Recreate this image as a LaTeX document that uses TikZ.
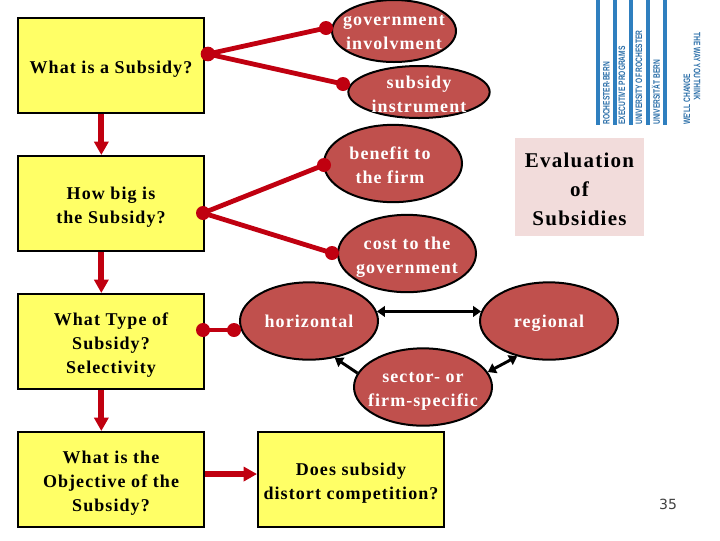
\documentclass[tikz,border=0pt]{standalone}
\usepackage{graphicx}
\usepackage{fontspec}
\setmainfont[LetterSpace=6]{Liberation Serif}
\newfontfamily\logofont{Liberation Sans}
\newfontfamily\numfont{DejaVu Sans}
\usetikzlibrary{shapes.geometric,arrows.meta}
\definecolor{boxyellow}{HTML}{FFFF66}
\definecolor{ovalred}{HTML}{C0504D}
\definecolor{linkred}{HTML}{C00010}
\definecolor{pinkbox}{HTML}{F2DCDB}
\definecolor{logoblue}{HTML}{2F7FBF}
\definecolor{logotext}{HTML}{2A6EA8}
% text placed with a zero-size box, so that the shape keeps its own size: [x shift]{y shift}{lines}
\newcommand\ntext[3][0pt]{\makebox[0pt]{\hspace*{#1}\hspace*{#1}\smash{\raisebox{\dimexpr-3.4pt-#2\relax}{\begin{tabular}{@{}c@{}}#3\end{tabular}}}}}
\tikzset{
  x=0.75pt,y=-0.75pt,
  txt/.style={font=\fontsize{13.5}{18}\selectfont\bfseries,align=center},
  ybox/.style={draw=black,line width=1.5pt,fill=boxyellow,minimum width=139.5pt,minimum height=71.25pt,inner sep=0pt,txt},
  oval/.style={ellipse,draw=black,line width=1.5pt,fill=ovalred,inner sep=0pt,text=white,txt},
  bigoval/.style={oval,minimum width=103.5pt,minimum height=58pt},
  dot/.style={circle,fill=linkred,inner sep=0pt,minimum size=10.5pt},
  link/.style={draw=linkred,line width=3.6pt},
  flow/.style={draw=linkred,line width=4.5pt,-{Triangle[length=10pt,width=10.5pt]}},
  twoway/.style={draw=black,line width=2.2pt,{Triangle[length=6pt,width=8pt]}-{Triangle[length=6pt,width=8pt]}},
  oneway/.style={draw=black,line width=2.2pt,-{Triangle[length=6pt,width=8pt]}},
  bar/.style={fill=logoblue,draw=none},
  logo/.style={rotate=90,anchor=west,inner sep=0pt,text=logotext,font=\logofont\fontsize{7}{8}\selectfont\bfseries},
}
\begin{document}
\begin{tikzpicture}
\useasboundingbox (0,0) rectangle (720,540);
% logo
\foreach \bx in {596,612.5,629,646,662.5}{\fill[bar] (\bx,0) rectangle (\bx+4,125);}
\node[logo] (l1) at (606.5,125) {\scalebox{.71}[1]{ROCHESTER-BERN}};
\node[logo] (l2) at (622,125) {\scalebox{.71}[1]{EXECUTIVE PROGRAMS}};
\node[logo] (l3) at (639,125) {\scalebox{.71}[1]{UNIVERSITY OF ROCHESTER}};
\node[logo] (l4) at (656,125) {\scalebox{.71}[1]{UNIVERSITÄT BERN}};
\node[logo] (l5) at (687,125) {\scalebox{.71}[1]{WE'LL CHANGE}};
\node[logo,rotate=-180,anchor=west] (l6) at (697,32) {\scalebox{.71}[1]{THE WAY YOU THINK}};
% boxes
\node[ybox] (q1) at (111,65.5) {\ntext{2.25pt}{What is a Subsidy?}};
\node[ybox] (q2) at (111,203.5) {\ntext{2.25pt}{How big is\\the Subsidy?}};
\node[ybox] (q3) at (111,341.5) {\ntext{2.25pt}{What Type of\\Subsidy?\\Selectivity}};
\node[ybox] (q4) at (111,479.5) {\ntext{2.25pt}{What is the\\Objective of the\\Subsidy?}};
\node[ybox] (q5) at (351,479.5) {\ntext{2.25pt}{Does subsidy\\distort competition?}};
\node[fill=pinkbox,minimum width=96.75pt,minimum height=73.5pt,inner sep=0pt,font=\fontsize{15.75}{21.75}\selectfont\bfseries] (ev) at (579.5,187) {\ntext{3pt}{Evaluation\\of\\Subsidies}};
% ovals
\node[oval,minimum width=93pt,minimum height=46.5pt] (gov) at (394,31) {\ntext{1.5pt}{government\\involvment}};
\node[oval,minimum width=106pt,minimum height=39pt] (ins) at (419,92) {\ntext{3pt}{subsidy\\instrument}};
\node[bigoval] (ben) at (393,163.5) {\ntext[-2.25pt]{2.25pt}{benefit to\\the firm}};
\node[bigoval] (cost) at (407,253.5) {\ntext{2.25pt}{cost to the\\government}};
\node[bigoval] (hor) at (309,321) {\ntext{1.5pt}{horizontal}};
\node[bigoval] (reg) at (549,321) {\ntext{1.5pt}{regional}};
\node[bigoval] (sec) at (423,387) {\ntext{2.25pt}{sector- or\\firm-specific}};
% dots
\node[dot,minimum size=11pt] (d1) at (208,54) {};
\node[dot] (d1a) at (326,28) {};
\node[dot] (d1b) at (343,84) {};
\node[dot] (d2) at (203,213) {};
\node[dot] (d2a) at (324,165) {};
\node[dot] (d2b) at (332,253) {};
\node[dot] (d3) at (203,330) {};
\node[dot] (d3a) at (234,330) {};
% connectors
\draw[link] (d1.center) -- (d1a.center);
\draw[link] (d1.center) -- (d1b.center);
\draw[link] (d2.center) -- (d2a.center);
\draw[link] (d2.center) -- (d2b.center);
\draw[link] (d3.center) -- (d3a.center);
\draw[flow] ([xshift=-7.25pt]q1.south) -- ([xshift=-7.25pt]q2.north);
\draw[flow] ([xshift=-7.25pt]q2.south) -- ([xshift=-7.25pt]q3.north);
\draw[flow] ([xshift=-7.25pt]q3.south) -- ([xshift=-7.25pt]q4.north);
\draw[flow] ([yshift=4.1pt]q4.east) -- ([yshift=4.1pt]q5.west);
\draw[twoway] (hor.8) -- (reg.172);
\draw[twoway] (sec.13) -- (reg.228);
\draw[oneway] (sec.168) -- (hor.-55);
\node[font=\numfont\fontsize{10.5}{12}\selectfont,text=black!75,inner sep=0pt] (pg) at (668,504) {35};
\end{tikzpicture}
\end{document}
